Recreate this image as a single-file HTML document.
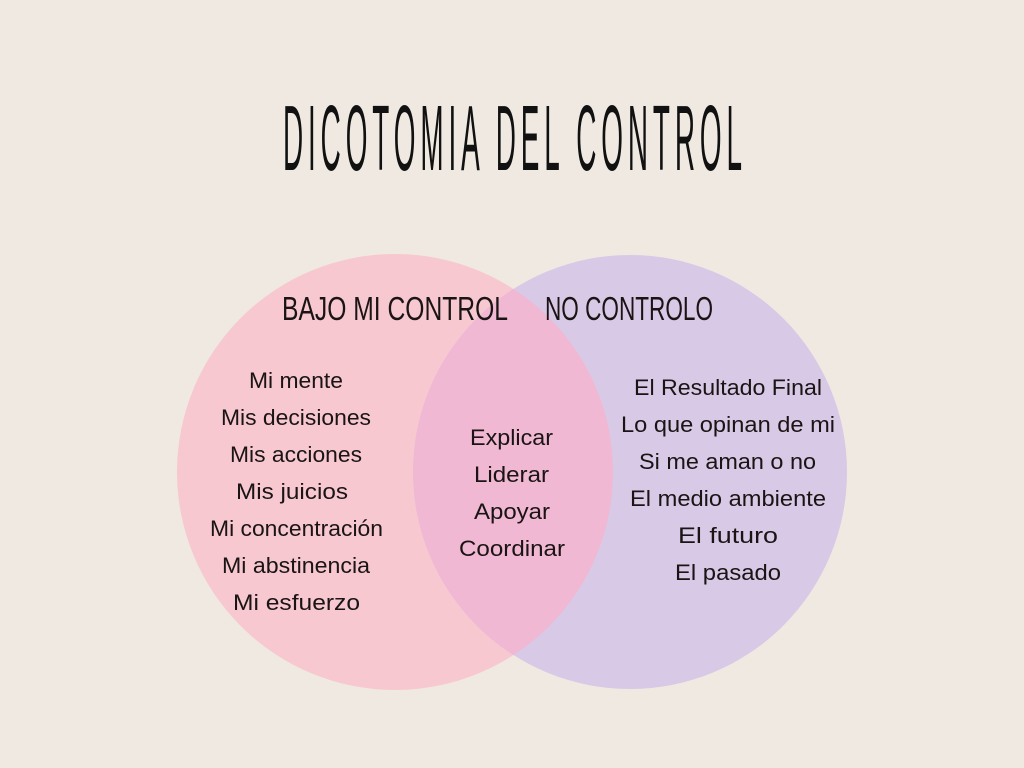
<!DOCTYPE html>
<html><head><meta charset="utf-8"><style>
html,body{margin:0;padding:0;background:#efe9e2;}
svg{display:block}
text{font-family:"Liberation Sans",sans-serif;fill:#1a1414;}
</style></head><body>
<svg width="1024" height="768" viewBox="0 0 1024 768" xmlns="http://www.w3.org/2000/svg">
<rect width="1024" height="768" fill="#efe9e2"/>
<defs><clipPath id="cl"><circle cx="395" cy="472" r="218"/></clipPath></defs>
<circle cx="395" cy="472" r="218" fill="#f7c8d0"/>
<circle cx="630" cy="472" r="217" fill="#d8c9e6"/>
<circle cx="630" cy="472" r="217" fill="#f0b8d2" clip-path="url(#cl)"/>
<g transform="translate(283,170) scale(0.3,1)">
<text x="0" y="0" font-size="93" textLength="1530" lengthAdjust="spacing" style="fill:#111">DICOTOMIA DEL CONTROL</text>
</g>
<text x="282" y="320" font-size="33" textLength="226" lengthAdjust="spacingAndGlyphs">BAJO MI CONTROL</text>
<text x="545" y="320" font-size="33" textLength="168" lengthAdjust="spacingAndGlyphs">NO CONTROLO</text>
<g font-size="22" text-anchor="start">
<text x="249" y="388" textLength="94" lengthAdjust="spacingAndGlyphs">Mi mente</text>
<text x="221" y="425" textLength="150" lengthAdjust="spacingAndGlyphs">Mis decisiones</text>
<text x="230" y="462" textLength="132" lengthAdjust="spacingAndGlyphs">Mis acciones</text>
<text x="236" y="499" textLength="112" lengthAdjust="spacingAndGlyphs">Mis juicios</text>
<text x="210" y="536" textLength="173" lengthAdjust="spacingAndGlyphs">Mi concentración</text>
<text x="222" y="573" textLength="148" lengthAdjust="spacingAndGlyphs">Mi abstinencia</text>
<text x="233" y="610" textLength="127" lengthAdjust="spacingAndGlyphs">Mi esfuerzo</text>
<text x="470" y="445" textLength="83" lengthAdjust="spacingAndGlyphs">Explicar</text>
<text x="474" y="482" textLength="75" lengthAdjust="spacingAndGlyphs">Liderar</text>
<text x="474" y="519" textLength="76" lengthAdjust="spacingAndGlyphs">Apoyar</text>
<text x="459" y="556" textLength="106" lengthAdjust="spacingAndGlyphs">Coordinar</text>
<text x="634" y="395" textLength="188" lengthAdjust="spacingAndGlyphs">El Resultado Final</text>
<text x="621" y="432" textLength="214" lengthAdjust="spacingAndGlyphs">Lo que opinan de mi</text>
<text x="639" y="469" textLength="177" lengthAdjust="spacingAndGlyphs">Si me aman o no</text>
<text x="630" y="506" textLength="196" lengthAdjust="spacingAndGlyphs">El medio ambiente</text>
<text x="678" y="543" textLength="100" lengthAdjust="spacingAndGlyphs">El futuro</text>
<text x="675" y="580" textLength="106" lengthAdjust="spacingAndGlyphs">El pasado</text>
</g>
</svg>
</body></html>
